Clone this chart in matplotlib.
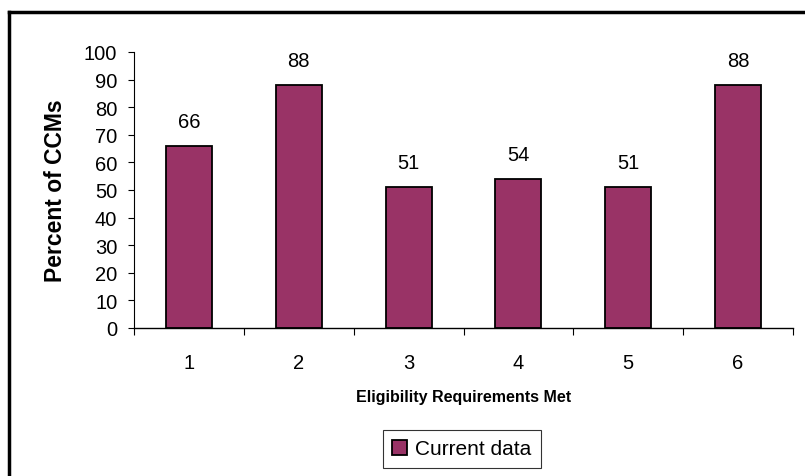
import matplotlib
matplotlib.use("Agg")
import matplotlib.pyplot as plt
from matplotlib.lines import Line2D
import numpy as np

# Datos del gráfico
categorias = ["1", "2", "3", "4", "5", "6"]
valores = [66, 88, 51, 54, 51, 88]
marcas_y = [0, 10, 20, 30, 40, 50, 60, 70, 80, 90, 100]
nombre_serie = "Current data"

plt.rcParams['font.family'] = ['Liberation Sans', 'DejaVu Sans']

fig = plt.figure(figsize=(8.05, 4.77), dpi=100)
ax = fig.add_axes([134 / 805, 1 - 329 / 477, (793 - 134) / 805, (329 - 53) / 477])

x = np.arange(len(categorias))
barras = ax.bar(x, valores, width=0.42, color='#993366', edgecolor='black',
                linewidth=1.3, label=nombre_serie)

# Etiquetas de valor encima de cada barra
for xi, v in zip(x, valores):
    ax.annotate(str(v), (xi, v), xytext=(0, 13.5), textcoords='offset points',
                ha='center', va='baseline', fontsize=14.5)

ax.set_xlim(-0.5, len(categorias) - 0.5)
ax.set_ylim(0, 100)
ax.set_yticks(marcas_y)
ax.tick_params(axis='y', direction='out', length=4, width=0.8, labelsize=14.5, pad=8)

ax.set_xticks(x)
ax.set_xticklabels(categorias)
ax.set_xticks(np.arange(-0.5, len(categorias)), minor=True)
ax.tick_params(axis='x', which='major', length=0, labelsize=14.5, pad=18)
ax.tick_params(axis='x', which='minor', direction='out', length=5, width=0.8)

for lado in ['top', 'right']:
    ax.spines[lado].set_visible(False)
ax.spines['left'].set_linewidth(0.8)
ax.spines['bottom'].set_linewidth(1.0)

ax.set_ylabel('Percent of CCMs', fontsize=16.5, fontweight='bold', labelpad=12)
ax.set_xlabel('Eligibility Requirements Met', fontsize=11.5, fontweight='bold', labelpad=12)

# Leyenda debajo del gráfico
leg = fig.legend(handles=[barras], loc='center', bbox_to_anchor=(462 / 805, 1 - 450 / 477),
                 fontsize=15, frameon=True, fancybox=False, edgecolor='black',
                 handlelength=0.7, handleheight=0.7, handletextpad=0.4, borderpad=0.45)
leg.get_frame().set_linewidth(0.8)

# Borde exterior (solo arriba e izquierda)
fig.add_artist(Line2D([9 / 805, 1], [1 - 13 / 477, 1 - 13 / 477], color='black',
                      linewidth=2.5, transform=fig.transFigure))
fig.add_artist(Line2D([9 / 805, 9 / 805], [0, 1 - 13 / 477], color='black',
                      linewidth=2.5, transform=fig.transFigure))

fig.savefig('out.png', dpi=100)
